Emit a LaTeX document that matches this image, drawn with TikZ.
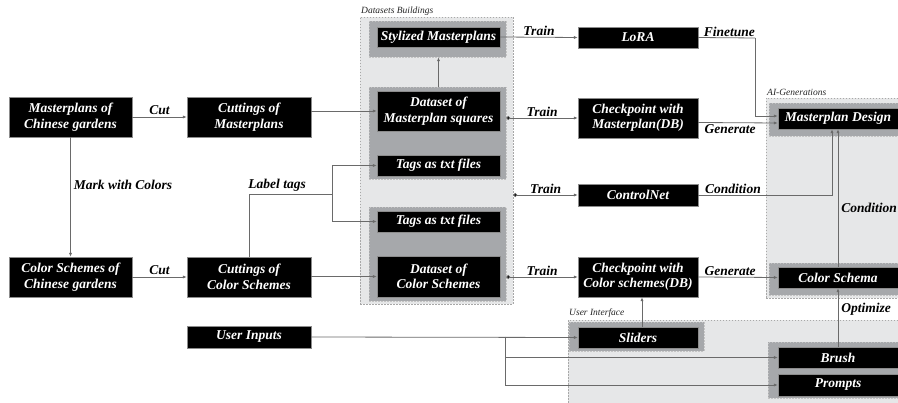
\documentclass[tikz,border=0pt]{standalone}
\usepackage{fontspec}
\setmainfont{Liberation Serif}
\usetikzlibrary{arrows.meta}
\definecolor{areafill}{HTML}{E6E7E8}
\definecolor{areadraw}{HTML}{A8A8A8}
\definecolor{grpfill}{HTML}{A6A8AB}
\definecolor{grpdraw}{HTML}{C4C4C4}
\definecolor{linec}{HTML}{6A6A6A}
\newcommand\mkbox[7][blk]{\node[#1, minimum width={(#5-#3)*1pt}, minimum height={(#6-#4)*1pt}] (#2) at ({(#3+#5)/2},{(#4+#6)/2}) {#7};}
\begin{document}
\begin{tikzpicture}[x=1pt,y=-1pt,
  blk/.style={fill=black, draw=black!45, line width=0.4pt, text=white, inner sep=0pt, align=center,
    font=\fontsize{13.5}{15.5}\selectfont\bfseries\itshape},
  grp/.style={fill=grpfill, draw=grpdraw, dashed, dash pattern=on 1.5pt off 1.5pt, line width=0.5pt, inner sep=0pt},
  area/.style={fill=areafill, draw=areadraw, dash pattern=on 1.5pt off 1.5pt, line width=0.5pt, inner sep=0pt},
  conn/.style={draw=linec, line width=0.8pt},
  arr/.style={conn, -{Latex[length=4pt,width=3.2pt]}},
  dotstart/.style={conn, {Circle[length=4pt,fill=black]}-{Latex[length=4pt,width=3.2pt]}},
  lbl/.style={font=\fontsize{13.5}{15}\selectfont\bfseries\itshape, inner sep=1pt},
  albl/.style={font=\fontsize{9.5}{11}\selectfont\itshape, text=black!85, inner sep=0pt, anchor=west},
]
\clip (0,0) rectangle (898,403);
\fill[white] (0,0) rectangle (898,403);
% areas
\mkbox[area]{DB}{360}{17}{513}{304}{}
\mkbox[area]{AI}{766}{98}{915}{298}{}
\mkbox[area]{UIA}{568}{320}{915}{415}{}
\node[albl] (lDB) at (361,11) {Datasets Buildings};
\node[albl] (lAI) at (767,92) {AI-Generations};
\node[albl] (lUI) at (569,313) {User Interface};
% groups
\mkbox[grp]{g1}{369}{21}{506}{57}{}
\mkbox[grp]{g2}{369}{87}{506}{179}{}
\mkbox[grp]{g3}{369}{207}{506}{301}{}
\mkbox[grp]{gmd}{769}{103}{915}{136}{}
\mkbox[grp]{gcs}{769}{263}{915}{295}{}
\mkbox[grp]{gsl}{569}{322}{704}{351}{}
\mkbox[grp]{gbp}{768}{342}{915}{398}{}
% boxes
\mkbox{mp}{9}{97}{132}{137}{Masterplans of\\Chinese gardens}
\mkbox{cs}{9}{257}{132}{297}{Color Schemes of\\Chinese gardens}
\mkbox{cut1}{187}{97}{311}{137}{Cuttings of\\Masterplans}
\mkbox{cut2}{187}{257}{311}{297}{Cuttings of\\Color Schemes}
\mkbox{ui}{187}{326}{311}{348}{User Inputs}
\mkbox{sty}{377}{27}{500}{47}{Stylized Masterplans}
\mkbox{ds1}{377}{91}{500}{131}{Dataset of\\Masterplan squares}
\mkbox{tag1}{377}{155}{500}{176}{Tags as txt files}
\mkbox{tag2}{377}{211}{500}{232}{Tags as txt files}
\mkbox{ds2}{377}{256}{500}{297}{Dataset of\\Color Schemes}
\mkbox{lora}{578}{27}{698}{48}{LoRA}
\mkbox{ck1}{578}{98}{698}{138}{Checkpoint with\\Masterplan(DB)}
\mkbox{cn}{578}{184}{698}{206}{ControlNet}
\mkbox{ck2}{578}{257}{698}{297}{Checkpoint with\\Color schemes(DB)}
\mkbox{sl}{578}{327}{698}{348}{Sliders}
\mkbox{md}{778}{108}{898}{129}{Masterplan Design}
\mkbox{csch}{778}{267}{898}{288}{Color Schema}
\mkbox{br}{778}{347}{898}{368}{Brush}
\mkbox{pr}{778}{374}{898}{396}{Prompts}
% connectors
\draw[arr] (mp.east) -- node[lbl, above=1pt] (lc1) {Cut} (cut1.west);
\draw[arr] (cs.east) -- node[lbl, above=1pt] (lc2) {Cut} (cut2.west);
\draw[arr] (mp.south) -- node[lbl, right=2pt, pos=0.4] (lmk) {Mark with Colors} (cs.north);
\draw[arr] (cut1.east |- ds1.west) -- (ds1.west);
\draw[arr] (cut2.east |- ds2.west) -- (ds2.west);
\coordinate (lt) at (332,194);
\draw[conn] (cut2.north) |- node[lbl, pos=0.5, anchor=south west, xshift=-2pt, yshift=1pt] (llt) {Label tags} (lt);
\draw[arr] (lt) |- (tag1.west);
\draw[arr] (lt) |- (tag2.west);
\draw[arr] (g2.north -| ds1.north) -- (g1.south -| sty.south);
\draw[arr] (sty.east) -- node[lbl, above=0pt] (lt1) {Train} (lora.west);
\draw[dotstart] (g2.east |- ck1.west) -- node[lbl, above=0pt] (lt2) {Train} (ck1.west);
\draw[dotstart] (DB.east |- cn.west) -- node[lbl, above=0pt] (lt3) {Train} (cn.west);
\draw[dotstart] (g3.east |- ck2.west) -- node[lbl, above=0pt] (lt4) {Train} (ck2.west);
\coordinate (ft) at (755,38);
\draw[conn] (lora.east) -- node[lbl, above=0pt, pos=0.55] (lft) {Finetune} (ft);
\draw[arr] (ft) |- ([yshift=2.5pt]md.west);
\draw[arr] ([yshift=-4.5pt]ck1.east) -- node[lbl, below=0pt, pos=0.4] (lg1) {Generate} ([yshift=-4.5pt]md.west);
\draw[arr] (cn.east) -| node[lbl, above=0pt, pos=0.13] (lcn) {Condition} ([xshift=-6pt]md.south);
\draw[arr] (csch.north) -- node[lbl, right=2pt, pos=0.43] (lcn2) {Condition} (md.south);
\draw[arr] (ck2.east) -- node[lbl, above=0pt, pos=0.4] (lg2) {Generate} (csch.west);
\draw[arr] (br.north) -- node[lbl, right=2pt, pos=0.64] (lop) {Optimize} (csch.south);
\draw[arr] ([xshift=4pt]sl.north) -- ([xshift=4pt]ck2.south);
\coordinate (jn) at (505,337);
\draw[arr] (ui.east) -- (sl.west);
\draw[arr] (jn) |- (br.west);
\draw[arr] (jn) |- (pr.west);
\end{tikzpicture}
\end{document}
